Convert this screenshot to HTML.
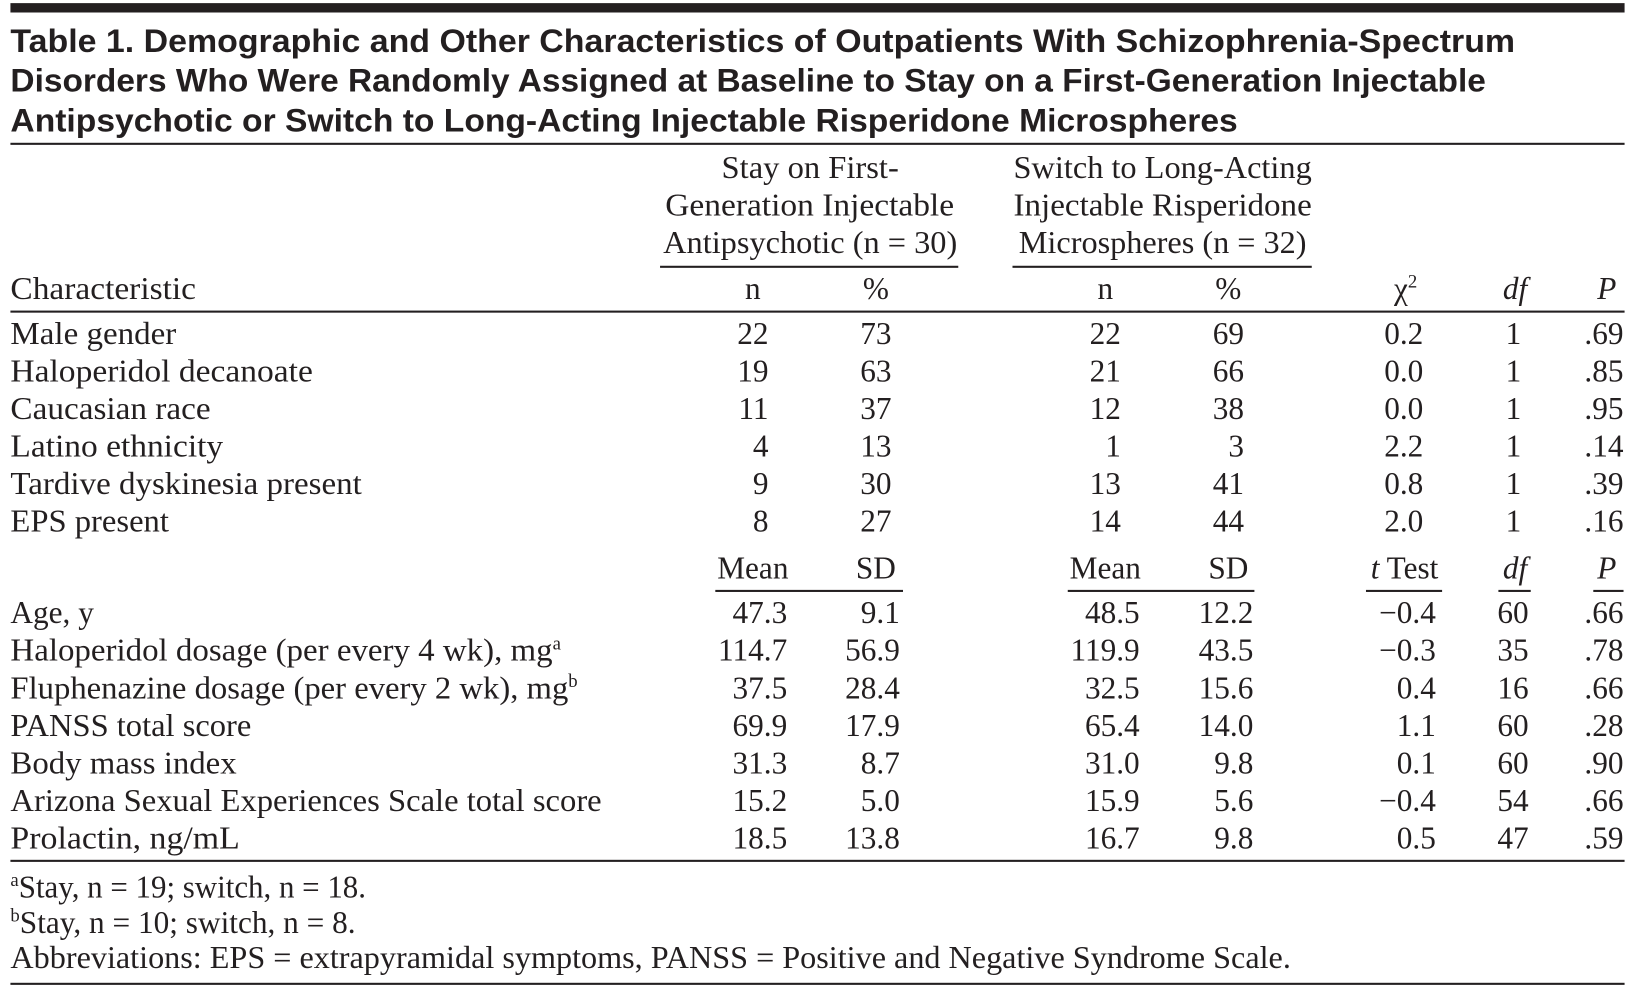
<!DOCTYPE html>
<html><head><meta charset="utf-8"><style>
html,body{margin:0;padding:0;background:#fff;width:1635px;height:988px;overflow:hidden}
svg{display:block}
.t{font-family:"Liberation Sans",sans-serif;font-weight:bold;font-size:31px;fill:#231f20}
.s{font-family:"Liberation Serif",serif;font-size:30px;fill:#231f20}
.r{text-anchor:end}.c{text-anchor:middle}.i{font-style:italic}
</style></head><body>
<svg width="1635" height="988" viewBox="0 0 1568 948" preserveAspectRatio="none" xmlns="http://www.w3.org/2000/svg">
<g fill="#231f20">
<rect x="10" y="3" width="1548" height="9"/>
<rect x="10" y="137" width="1548" height="2"/>
<rect x="633" y="255" width="286" height="2"/>
<rect x="971" y="255" width="287" height="2"/>
<rect x="10" y="298" width="1548" height="2"/>
<rect x="686" y="566" width="180" height="2"/>
<rect x="1024" y="566" width="179" height="2"/>
<rect x="1310" y="566" width="73" height="2"/>
<rect x="1437" y="566" width="31" height="2"/>
<rect x="1528" y="566" width="29" height="2"/>
<rect x="10" y="825" width="1548" height="2"/>
<rect x="10" y="943" width="1548" height="2"/>
</g>
<text class="t" x="10" y="50" textLength="1443" lengthAdjust="spacingAndGlyphs">Table 1. Demographic and Other Characteristics of Outpatients With Schizophrenia-Spectrum</text>
<text class="t" x="10" y="88" textLength="1415" lengthAdjust="spacingAndGlyphs">Disorders Who Were Randomly Assigned at Baseline to Stay on a First-Generation Injectable</text>
<text class="t" x="10" y="126" textLength="1177" lengthAdjust="spacingAndGlyphs">Antipsychotic or Switch to Long-Acting Injectable Risperidone Microspheres</text>

<text class="s" x="692" y="171" textLength="170" lengthAdjust="spacingAndGlyphs">Stay on First-</text>
<text class="s" x="638" y="207" textLength="277" lengthAdjust="spacingAndGlyphs">Generation Injectable</text>
<text class="s" x="636" y="243" textLength="282" lengthAdjust="spacingAndGlyphs">Antipsychotic (n = 30)</text>
<text class="s" x="972" y="171" textLength="286" lengthAdjust="spacingAndGlyphs">Switch to Long-Acting</text>
<text class="s" x="972" y="207" textLength="286" lengthAdjust="spacingAndGlyphs">Injectable Risperidone</text>
<text class="s" x="977" y="243" textLength="276" lengthAdjust="spacingAndGlyphs">Microspheres (n = 32)</text>

<text class="s" x="10" y="287" textLength="178" lengthAdjust="spacingAndGlyphs">Characteristic</text>
<text class="s c" x="722" y="287">n</text><text class="s c" x="840" y="287">%</text>
<text class="s c" x="1060" y="287">n</text><text class="s c" x="1178" y="287">%</text>
<text class="s c" x="1348" y="287">χ<tspan dy="-11" font-size="18">2</tspan></text>
<text class="s c i" x="1453" y="287">df</text>
<text class="s c i" x="1541" y="287">P</text>

<text class="s" x="10" y="330" textLength="159" lengthAdjust="spacingAndGlyphs">Male gender</text>
<text class="s" x="10" y="366" textLength="290" lengthAdjust="spacingAndGlyphs">Haloperidol decanoate</text>
<text class="s" x="10" y="402" textLength="192" lengthAdjust="spacingAndGlyphs">Caucasian race</text>
<text class="s" x="10" y="438" textLength="204" lengthAdjust="spacingAndGlyphs">Latino ethnicity</text>
<text class="s" x="10" y="474" textLength="337" lengthAdjust="spacingAndGlyphs">Tardive dyskinesia present</text>
<text class="s" x="10" y="510" textLength="152" lengthAdjust="spacingAndGlyphs">EPS present</text>

<text class="s r" x="737" y="330">22</text><text class="s r" x="855" y="330">73</text><text class="s r" x="1075" y="330">22</text><text class="s r" x="1193" y="330">69</text><text class="s r" x="1365" y="330">0.2</text><text class="s r" x="1459" y="330">1</text><text class="s r" x="1557" y="330">.69</text>
<text class="s r" x="737" y="366">19</text><text class="s r" x="855" y="366">63</text><text class="s r" x="1075" y="366">21</text><text class="s r" x="1193" y="366">66</text><text class="s r" x="1365" y="366">0.0</text><text class="s r" x="1459" y="366">1</text><text class="s r" x="1557" y="366">.85</text>
<text class="s r" x="737" y="402">11</text><text class="s r" x="855" y="402">37</text><text class="s r" x="1075" y="402">12</text><text class="s r" x="1193" y="402">38</text><text class="s r" x="1365" y="402">0.0</text><text class="s r" x="1459" y="402">1</text><text class="s r" x="1557" y="402">.95</text>
<text class="s r" x="737" y="438">4</text><text class="s r" x="855" y="438">13</text><text class="s r" x="1075" y="438">1</text><text class="s r" x="1193" y="438">3</text><text class="s r" x="1365" y="438">2.2</text><text class="s r" x="1459" y="438">1</text><text class="s r" x="1557" y="438">.14</text>
<text class="s r" x="737" y="474">9</text><text class="s r" x="855" y="474">30</text><text class="s r" x="1075" y="474">13</text><text class="s r" x="1193" y="474">41</text><text class="s r" x="1365" y="474">0.8</text><text class="s r" x="1459" y="474">1</text><text class="s r" x="1557" y="474">.39</text>
<text class="s r" x="737" y="510">8</text><text class="s r" x="855" y="510">27</text><text class="s r" x="1075" y="510">14</text><text class="s r" x="1193" y="510">44</text><text class="s r" x="1365" y="510">2.0</text><text class="s r" x="1459" y="510">1</text><text class="s r" x="1557" y="510">.16</text>

<text class="s c" x="722" y="555">Mean</text><text class="s c" x="840" y="555">SD</text>
<text class="s c" x="1060" y="555">Mean</text><text class="s c" x="1178" y="555">SD</text>
<text class="s c" x="1347" y="555"><tspan font-style="italic">t</tspan> Test</text>
<text class="s c i" x="1453" y="555">df</text>
<text class="s c i" x="1541" y="555">P</text>

<text class="s" x="10" y="598" textLength="80" lengthAdjust="spacingAndGlyphs">Age, y</text>
<text class="s" x="10" y="634"><tspan textLength="520" lengthAdjust="spacingAndGlyphs">Haloperidol dosage (per every 4 wk), mg</tspan><tspan dy="-11" font-size="18">a</tspan></text>
<text class="s" x="10" y="670"><tspan textLength="535" lengthAdjust="spacingAndGlyphs">Fluphenazine dosage (per every 2 wk), mg</tspan><tspan dy="-11" font-size="18">b</tspan></text>
<text class="s" x="10" y="706" textLength="231" lengthAdjust="spacingAndGlyphs">PANSS total score</text>
<text class="s" x="10" y="742" textLength="217" lengthAdjust="spacingAndGlyphs">Body mass index</text>
<text class="s" x="10" y="778" textLength="567" lengthAdjust="spacingAndGlyphs">Arizona Sexual Experiences Scale total score</text>
<text class="s" x="10" y="814" textLength="220" lengthAdjust="spacingAndGlyphs">Prolactin, ng/mL</text>

<text class="s r" x="755" y="598">47.3</text><text class="s r" x="863" y="598">9.1</text><text class="s r" x="1093" y="598">48.5</text><text class="s r" x="1202" y="598">12.2</text><text class="s r" x="1377" y="598">−0.4</text><text class="s r" x="1466" y="598">60</text><text class="s r" x="1557" y="598">.66</text>
<text class="s r" x="755" y="634">114.7</text><text class="s r" x="863" y="634">56.9</text><text class="s r" x="1093" y="634">119.9</text><text class="s r" x="1202" y="634">43.5</text><text class="s r" x="1377" y="634">−0.3</text><text class="s r" x="1466" y="634">35</text><text class="s r" x="1557" y="634">.78</text>
<text class="s r" x="755" y="670">37.5</text><text class="s r" x="863" y="670">28.4</text><text class="s r" x="1093" y="670">32.5</text><text class="s r" x="1202" y="670">15.6</text><text class="s r" x="1377" y="670">0.4</text><text class="s r" x="1466" y="670">16</text><text class="s r" x="1557" y="670">.66</text>
<text class="s r" x="755" y="706">69.9</text><text class="s r" x="863" y="706">17.9</text><text class="s r" x="1093" y="706">65.4</text><text class="s r" x="1202" y="706">14.0</text><text class="s r" x="1377" y="706">1.1</text><text class="s r" x="1466" y="706">60</text><text class="s r" x="1557" y="706">.28</text>
<text class="s r" x="755" y="742">31.3</text><text class="s r" x="863" y="742">8.7</text><text class="s r" x="1093" y="742">31.0</text><text class="s r" x="1202" y="742">9.8</text><text class="s r" x="1377" y="742">0.1</text><text class="s r" x="1466" y="742">60</text><text class="s r" x="1557" y="742">.90</text>
<text class="s r" x="755" y="778">15.2</text><text class="s r" x="863" y="778">5.0</text><text class="s r" x="1093" y="778">15.9</text><text class="s r" x="1202" y="778">5.6</text><text class="s r" x="1377" y="778">−0.4</text><text class="s r" x="1466" y="778">54</text><text class="s r" x="1557" y="778">.66</text>
<text class="s r" x="755" y="814">18.5</text><text class="s r" x="863" y="814">13.8</text><text class="s r" x="1093" y="814">16.7</text><text class="s r" x="1202" y="814">9.8</text><text class="s r" x="1377" y="814">0.5</text><text class="s r" x="1466" y="814">47</text><text class="s r" x="1557" y="814">.59</text>

<text class="s" x="10" y="861"><tspan dy="-11" font-size="18">a</tspan><tspan dy="11" textLength="333" lengthAdjust="spacingAndGlyphs">Stay, n = 19; switch, n = 18.</tspan></text>
<text class="s" x="10" y="895"><tspan dy="-11" font-size="18">b</tspan><tspan dy="11" textLength="322" lengthAdjust="spacingAndGlyphs">Stay, n = 10; switch, n = 8.</tspan></text>
<text class="s" x="10" y="929" textLength="1228" lengthAdjust="spacingAndGlyphs">Abbreviations: EPS = extrapyramidal symptoms, PANSS = Positive and Negative Syndrome Scale.</text>
</svg>
</body></html>
